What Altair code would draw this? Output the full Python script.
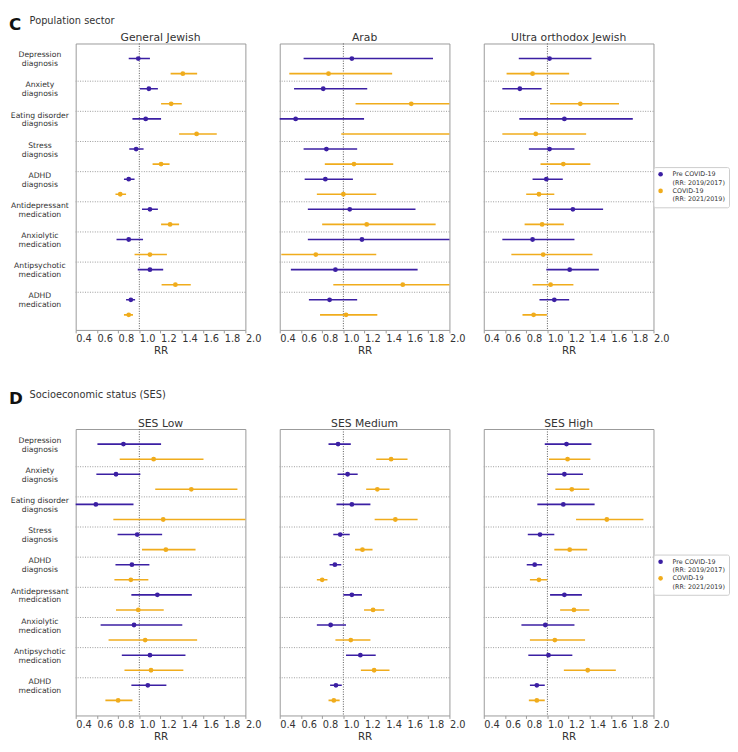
import altair as alt
import pandas as pd

CATEGORIES = ["Depression|diagnosis", "Anxiety|diagnosis", "Eating disorder|diagnosis",
              "Stress|diagnosis", "ADHD|diagnosis", "Antidepressant|medication",
              "Anxiolytic|medication", "Antipsychotic|medication", "ADHD|medication"]
SERIES = ["Pre COVID-19|(RR: 2019/2017)", "COVID-19|(RR: 2021/2019)"]
COLORS = ["#3b1fa3", "#f0ac1c"]
TICKS = [0.4, 0.6, 0.8, 1.0, 1.2, 1.4, 1.6, 1.8, 2.0]
REF = [1.0]

# rows: [RR, lower CI, upper CI]
GJ_PRE = [[0.99, 0.90, 1.10], [1.09, 1.005, 1.175], [1.06, 0.935, 1.205], [0.97, 0.905, 1.04],
          [0.90, 0.855, 0.955], [1.10, 1.025, 1.175], [0.90, 0.785, 1.035], [1.10, 0.985, 1.225],
          [0.92, 0.875, 0.96]]
GJ_COV = [[1.41, 1.295, 1.545], [1.30, 1.205, 1.40], [1.54, 1.375, 1.73], [1.205, 1.125, 1.285],
          [0.82, 0.775, 0.875], [1.29, 1.205, 1.375], [1.10, 0.955, 1.26], [1.34, 1.21, 1.485],
          [0.90, 0.855, 0.94]]
AR_PRE = [[1.08, 0.625, 1.845], [0.81, 0.535, 1.225], [0.55, 0.30, 1.195], [0.84, 0.625, 1.13],
          [0.83, 0.635, 1.09], [1.06, 0.665, 1.68], [1.175, 0.665, 2.10], [0.925, 0.505, 1.70],
          [0.87, 0.675, 1.13]]
AR_COV = [[0.86, 0.49, 1.46], [1.64, 1.115, 2.05], [2.30, 0.98, 4.00], [1.10, 0.825, 1.47],
          [1.00, 0.75, 1.31], [1.22, 0.80, 1.87], [0.74, 0.415, 1.31], [1.56, 0.905, 2.10],
          [1.025, 0.78, 1.32]]
UO_PRE = [[1.02, 0.73, 1.415], [0.74, 0.575, 0.945], [1.16, 0.735, 1.805], [1.02, 0.825, 1.255],
          [0.99, 0.86, 1.145], [1.24, 1.015, 1.525], [0.86, 0.575, 1.255], [1.21, 0.99, 1.485],
          [1.065, 0.925, 1.205]]
UO_COV = [[0.86, 0.615, 1.205], [1.31, 1.025, 1.675], [0.89, 0.575, 1.365], [1.15, 0.935, 1.405],
          [0.92, 0.80, 1.065], [0.95, 0.785, 1.155], [0.96, 0.66, 1.425], [1.03, 0.86, 1.245],
          [0.87, 0.765, 0.995]]
LOW_PRE = [[0.85, 0.605, 1.205], [0.78, 0.595, 1.01], [0.59, 0.35, 0.945], [0.98, 0.795, 1.215],
           [0.93, 0.775, 1.095], [1.17, 0.925, 1.495], [0.95, 0.635, 1.405], [1.10, 0.835, 1.435],
           [1.08, 0.925, 1.255]]
LOW_COV = [[1.135, 0.815, 1.605], [1.49, 1.15, 1.925], [1.225, 0.755, 2.05], [1.25, 1.025, 1.53],
           [0.92, 0.765, 1.085], [0.99, 0.78, 1.23], [1.055, 0.71, 1.545], [1.11, 0.86, 1.415],
           [0.80, 0.68, 0.935]]
MED_PRE = [[0.95, 0.86, 1.07], [1.04, 0.945, 1.135], [1.08, 0.935, 1.255], [0.97, 0.905, 1.06],
           [0.92, 0.87, 0.98], [1.08, 1.00, 1.175], [0.88, 0.75, 1.025], [1.16, 1.025, 1.305],
           [0.93, 0.875, 0.985]]
MED_COV = [[1.45, 1.31, 1.605], [1.32, 1.215, 1.435], [1.49, 1.295, 1.70], [1.18, 1.11, 1.275],
           [0.80, 0.75, 0.85], [1.28, 1.195, 1.385], [1.07, 0.925, 1.255], [1.29, 1.165, 1.435],
           [0.91, 0.86, 0.965]]
HIGH_PRE = [[1.18, 0.975, 1.415], [1.16, 1.00, 1.335], [1.15, 0.905, 1.445], [0.93, 0.815, 1.065],
            [0.88, 0.805, 0.95], [1.16, 1.025, 1.325], [0.98, 0.755, 1.255], [1.01, 0.82, 1.235],
            [0.90, 0.835, 0.975]]
HIGH_COV = [[1.19, 1.015, 1.405], [1.23, 1.075, 1.395], [1.56, 1.27, 1.905], [1.21, 1.065, 1.375],
            [0.92, 0.835, 1.00], [1.25, 1.12, 1.395], [1.07, 0.835, 1.355], [1.38, 1.155, 1.645],
            [0.90, 0.825, 0.975]]

PANELS = [
    ("General Jewish", GJ_PRE, GJ_COV),
    ("Arab", AR_PRE, AR_COV),
    ("Ultra orthodox Jewish", UO_PRE, UO_COV),
    ("SES Low", LOW_PRE, LOW_COV),
    ("SES Medium", MED_PRE, MED_COV),
    ("SES High", HIGH_PRE, HIGH_COV),
]
SECTIONS = {0: ("C", "Population sector", -27), 3: ("D", "Socioeconomic status (SES)", -39)}
FONT = "DejaVu Sans"
W, H = 173, 292

xscale = alt.Scale(domain=[0.4, 2.0], nice=False, zero=False)
xaxis = alt.Axis(values=TICKS, format=".1f", labelAlign="left", labelFlush=False, labelOverlap=False,
                 tickSize=3, tickColor="#999", domain=False, grid=False, labelFontSize=10,
                 labelPadding=1, title="RR", titleFontSize=10.5, titlePadding=2, labelBaseline="top")
yscale = alt.Scale(domain=CATEGORIES, paddingInner=0, paddingOuter=0.25)
yoscale = alt.Scale(domain=SERIES, paddingInner=0, paddingOuter=0)
yaxis_on = alt.Axis(title=None, labelExpr="split(datum.label, '|')", labelAlign="center",
                    labelBaseline="middle", labelPadding=37, labelOffset=-11, ticks=False, tickSize=0,
                    domain=False, grid=False, labelFontSize=7.8, labelLineHeight=9, labelColor="#333")


def make_panel(i, title, pre, cov):
    rows = []
    for s, vals in zip(SERIES, [pre, cov]):
        for c, (pt, lo, hi) in zip(CATEGORIES, vals):
            rows.append({"cat": c, "series": s, "pt": pt, "lo": lo, "hi": hi})
    df = pd.DataFrame(rows)
    yaxis = yaxis_on if i % 3 == 0 else None
    if i % 3 == 2:
        legend = alt.Legend(orient="none", legendX=173, legendY=126 if i == 2 else 128, title=None,
                            labelExpr="split(datum.label, '|')", symbolType="circle", symbolSize=22,
                            labelFontSize=6.5, labelColor="#333", strokeColor="#ccc", fillColor="white",
                            padding=4, cornerRadius=2, rowPadding=1, labelOffset=9,
                            symbolStrokeWidth=0, symbolOpacity=1, labelFont=FONT)
    else:
        legend = None
    color = alt.Color("series:N", scale=alt.Scale(domain=SERIES, range=COLORS), legend=legend)
    y = alt.Y("cat:N", scale=yscale, sort=CATEGORIES, axis=yaxis)
    yo = alt.YOffset("series:N", scale=yoscale, sort=SERIES)

    vline = alt.Chart(pd.DataFrame({"v": REF})).mark_rule(
        color="#555", strokeDash=[1, 1.5], strokeWidth=1).encode(
        x=alt.X("v:Q", scale=xscale, axis=xaxis))
    seps = alt.Chart(pd.DataFrame({"cat": CATEGORIES[1:]})).mark_rule(
        color="#999", strokeDash=[1, 1.5], strokeWidth=1).encode(
        y=alt.Y("cat:N", scale=yscale, sort=CATEGORIES, axis=yaxis, bandPosition=0))
    bars = alt.Chart(df).mark_rule(strokeWidth=1.6, clip=True).encode(
        x=alt.X("lo:Q", scale=xscale, axis=xaxis), x2="hi:Q", y=y, yOffset=yo, color=color)
    pts = alt.Chart(df).mark_circle(size=24, opacity=1, clip=True).encode(
        x=alt.X("pt:Q", scale=xscale, axis=xaxis), y=y, yOffset=yo, color=color)
    ttl = alt.Chart(pd.DataFrame({"t": [title]})).mark_text(
        align="center", baseline="alphabetic", fontSize=11, font=FONT, color="#333").encode(
        text="t:N", x=alt.value(W / 2), y=alt.value(-2.5))
    layers = [vline, seps, bars, pts, ttl]
    if i in SECTIONS:
        letter, stitle, ty = SECTIONS[i]
        layers.append(alt.Chart(pd.DataFrame({"t": [letter]})).mark_text(
            align="left", baseline="top", fontSize=17, fontWeight="bold", font=FONT, color="#111").encode(
            text="t:N", x=alt.value(-68), y=alt.value(ty)))
        layers.append(alt.Chart(pd.DataFrame({"t": [stitle]})).mark_text(
            align="left", baseline="top", fontSize=10, font=FONT, color="#333").encode(
            text="t:N", x=alt.value(-47), y=alt.value(ty - 1)))
    return alt.layer(*layers).properties(width=W, height=H)


panels = [make_panel(i, t, p, c) for i, (t, p, c) in enumerate(PANELS)]

chart = alt.concat(*panels, columns=3, spacing={"row": 101, "column": 35}, bounds="flush").resolve_scale(
    color="independent").properties(padding=0, background="white").configure_view(
    stroke="#999", strokeWidth=1).configure_axis(
    labelFont=FONT, titleFont=FONT, labelColor="#333", titleColor="#333", titleFontWeight="normal")

chart.save("out.html", embed_options={"renderer": "svg", "actions": False})
